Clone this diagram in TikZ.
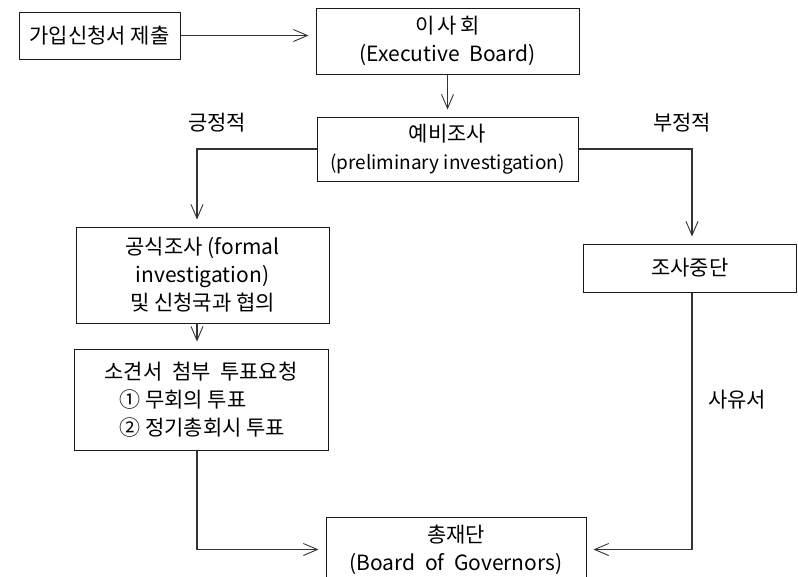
\documentclass[tikz,border=0pt]{standalone}
\usepackage{fontspec}
\setmainfont{Noto Sans CJK KR}
\usetikzlibrary{arrows.meta,calc}
\begin{document}
\begin{tikzpicture}[x=1pt,y=-1pt,
  box/.style={draw=black!90,line width=1pt,inner sep=0pt,align=center,font=\fontsize{21}{28}\selectfont},
  lbl/.style={inner sep=0pt,font=\fontsize{21}{28}\selectfont},
  conn/.style={draw=black!80,line width=1.1pt,-{Straight Barb[length=14pt,width=12pt,line width=0.9pt]},shorten >=7pt}]
\useasboundingbox (0,0) rectangle (798,576);
\node[box,minimum width=161pt,minimum height=47pt] (b1) at (99.5,35.5) {가입신청서 제출};
\node[box,minimum width=263pt,minimum height=66pt] (b2) at (447.5,41) {이\,사\,회\\(Executive\ \ Board)};
\node[box,minimum width=261pt,minimum height=64pt] (b3) at (447.5,149) {예비조사\\{\fontsize{19}{28}\selectfont(preliminary\ investigation)}};
\node[box,minimum width=253pt,minimum height=96pt] (b4) at (202.5,275) {공식조사 (formal\\investigation)\\및 신청국과 협의};
\node[box,minimum width=213pt,minimum height=48pt] (b5) at (689.75,268) {조사중단};
\node[box,minimum width=254pt,minimum height=101pt,align=left] (b6) at (201,399.5) {소견서\ \ 첨부\ \ 투표요청\\\hspace*{15pt}① 무회의 투표\\\hspace*{15pt}② 정기총회시 투표};
\node[box,minimum width=260pt,minimum height=65pt] (b7) at (456,549.5) {총재단\\(Board\ \ of\ \ Governors)};
\coordinate (lx) at (197,0);
\coordinate (rx) at (692,0);
\node[lbl] (pos) at (217,123) {긍정적};
\node[lbl] (neg) at (682,123) {부정적};
\node[lbl] (why) at (737,400) {사유서};
\draw[conn] (b1.east) -- (b1.east -| b2.west);
\draw[conn] (b2.south) -- (b3.north);
\draw[conn] (b3.west) -| (lx |- b4.north);
\draw[conn] (b3.east) -| (rx |- b5.north);
\draw[conn] (lx |- b4.south) -- (lx |- b6.north);
\draw[conn] (lx |- b6.south) |- (b7.west);
\draw[conn] (rx |- b5.south) |- (b7.east);
\end{tikzpicture}
\end{document}
